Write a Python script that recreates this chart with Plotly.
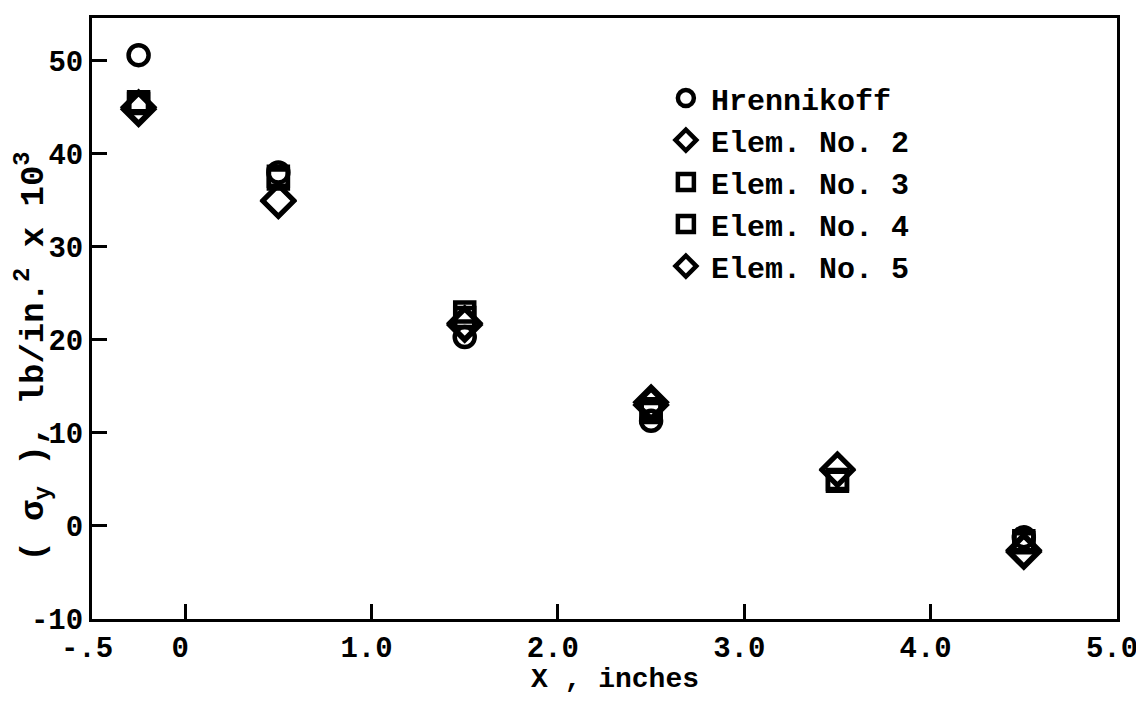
import plotly.graph_objects as go

x_vals = [-0.25, 0.5, 1.5, 2.5, 3.5, 4.5]
hrennikoff = [50.6, 38.0, 20.3, 11.3, None, -1.2]
elem2 = [44.8, 34.9, 21.6, 13.3, 6.1, -2.8]
elem3 = [45.6, 37.3, 23.0, 12.6, 4.8, -1.8]
elem4 = [45.4, 37.6, 22.4, 12.2, 5.0, -1.6]
elem5 = [45.0, 35.0, 21.8, 13.0, 6.0, -2.6]

series = [
    ("Hrennikoff", hrennikoff, "circle-open", 20),
    ("Elem. No. 2", elem2, "diamond-open", 24),
    ("Elem. No. 3", elem3, "square-open", 19),
    ("Elem. No. 4", elem4, "square-open", 19),
    ("Elem. No. 5", elem5, "diamond-open", 24),
]

x_tickvals = [-0.5, 0, 1, 2, 3, 4, 5]
x_ticktext = ["-.5", "0", "1.0", "2.0", "3.0", "4.0", "5.0"]
y_tickvals = [-10, 0, 10, 20, 30, 40, 50]
y_ticktext = ["-10", "0", "10", "20", "30", "40", "50"]

FONT = "Liberation Mono"
FS = 30

fig = go.Figure()
for name, vals, sym, size in series:
    fig.add_trace(go.Scatter(
        x=x_vals, y=vals, mode="markers", name=name,
        marker=dict(symbol=sym, size=size, color="black",
                    line=dict(width=4.5, color="black")),
    ))

fig.update_layout(
    width=1144, height=722,
    margin=dict(l=84, r=35, t=10, b=111, autoexpand=False),
    paper_bgcolor="white", plot_bgcolor="white",
    font=dict(family=FONT, size=FS, color="black"),
    showlegend=True,
    legend=dict(x=0.555, y=0.91, xanchor="left", yanchor="top",
                bgcolor="rgba(0,0,0,0)",
                font=dict(family=FONT, size=FS, color="black", weight="bold"),
                itemsizing="trace", itemwidth=40, tracegroupgap=0),
    annotations=[
        dict(text="X , inches", xref="paper", yref="paper", x=0.51, y=-0.072,
             xanchor="center", yanchor="top", showarrow=False,
             font=dict(family=FONT, size=28, weight="bold")),
        dict(text="( σ<sub>y</sub> ), lb/in.<sup>2</sup> x 10<sup>3</sup>",
             xref="paper", yref="paper", x=-0.058, y=0.436, textangle=-90,
             xanchor="center", yanchor="middle", showarrow=False,
             font=dict(family=FONT, size=34, weight="bold")),
    ],
)
fig.update_xaxes(
    range=[-0.5, 5.0], tickvals=x_tickvals, ticktext=x_ticktext,
    ticks="inside", ticklen=15, tickwidth=3, tickcolor="black",
    showline=True, linewidth=3, linecolor="black", mirror=True,
    showgrid=False, zeroline=False, automargin=False,
    ticklabeloverflow="allow", ticklabelshift=-5,
    tickfont=dict(family=FONT, size=29, weight="bold"),
)
fig.update_yaxes(
    range=[-10, 54.6], tickvals=y_tickvals, ticktext=y_ticktext,
    ticks="inside", ticklen=15, tickwidth=3, tickcolor="black",
    showline=True, linewidth=3, linecolor="black", mirror=True,
    showgrid=False, zeroline=False, automargin=False,
    tickfont=dict(family=FONT, size=29, weight="bold"),
)

fig.write_html("out.html")
